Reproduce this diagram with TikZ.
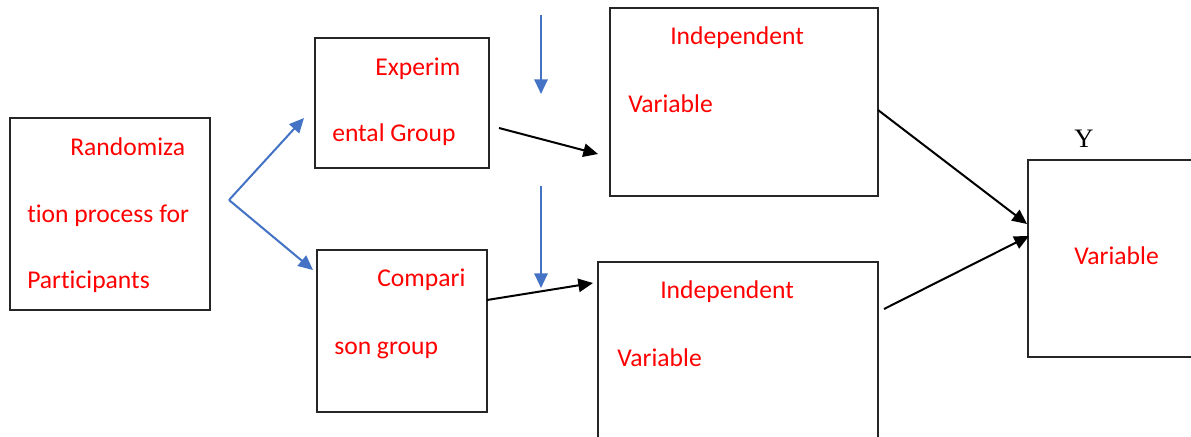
\documentclass[tikz,border=0pt]{standalone}
\usepackage{fontspec}
\setmainfont{Carlito}[Ligatures=NoCommon]
\newfontfamily\serifY{Liberation Serif}
\usepackage{xcolor}
\usetikzlibrary{arrows.meta}
\definecolor{linkblue}{RGB}{68,114,196}
\definecolor{labelred}{RGB}{255,0,0}

\begin{document}
\begin{tikzpicture}[x=0.75pt, y=-0.75pt,
    box/.style={draw=black!85, line width=0.9pt, fill=white, inner sep=0pt},
    lbl/.style={anchor=base west, inner sep=0pt, text=labelred, font=\fontsize{19.2}{23}\selectfont},
    bluearrow/.style={draw=linkblue, line width=1.5pt, -{Triangle[length=11pt, width=10pt]}},
    blackarrow/.style={draw=black, line width=1.5pt, -{Triangle[length=11pt, width=10pt]}}]
    % page frame
    \clip (0,0) rectangle (1191,436);
    \fill[white] (0,0) rectangle (1191,436);

    % boxes
    \node[box, minimum width=150pt, minimum height=144pt] (rand) at (110,214) {};
    \node[box, minimum width=130.5pt, minimum height=97.5pt] (expgrp) at (402,103) {};
    \node[box, minimum width=127.5pt, minimum height=121.5pt] (compgrp) at (402,331) {};
    \node[box, minimum width=201pt, minimum height=141pt] (ivtop) at (744,102) {};
    \node[box, minimum width=210pt, minimum height=156pt] (ivbot) at (738,366) {};
    \node[box, minimum width=144pt, minimum height=147.75pt] (dv) at (1124,258.5) {};

    % labels inside the boxes
    \node[lbl] (rand1) at (70,155) {Randomiza};
    \node[lbl] (rand2) at (27,222) {tion process for};
    \node[lbl] (rand3) at (27,288) {Participants};
    \node[lbl] (exp1) at (375,75) {Experim};
    \node[lbl] (exp2) at (332,141) {ental Group};
    \node[lbl] (comp1) at (377,286) {Compari};
    \node[lbl] (comp2) at (334,354) {son group};
    \node[lbl] (ivtop1) at (670,44) {Independent};
    \node[lbl] (ivtop2) at (628,112) {Variable};
    \node[lbl] (ivbot1) at (660,298) {Independent};
    \node[lbl] (ivbot2) at (617,366) {Variable};
    \node[lbl] (dv1) at (1074,264) {Variable};
    \node[anchor=base, inner sep=0pt, font=\serifY\fontsize{20}{24}\selectfont] (ylbl) at (1084,147) {Y};

    % connector end points
    \coordinate (fork) at (229,200);
    \coordinate (forkup) at (304,118);
    \coordinate (forkdown) at (313,270);
    \coordinate (topin1) at (541,15);
    \coordinate (topin2) at (541,94);
    \coordinate (midin1) at (541,186);
    \coordinate (midin2) at (541,288);
    \coordinate (expout) at (499,128);
    \coordinate (ivtopin) at (598,154);
    \coordinate (compout) at (487,300);
    \coordinate (ivbotin) at (593,283);
    \coordinate (ivtopout) at (878,110);
    \coordinate (dvin1) at (1027,224);
    \coordinate (ivbotout) at (884,309);
    \coordinate (dvin2) at (1029,236);

    % blue arrows
    \draw[bluearrow] (fork) -- (forkup);
    \draw[bluearrow] (fork) -- (forkdown);
    \draw[bluearrow] (topin1) -- (topin2);
    \draw[bluearrow] (midin1) -- (midin2);

    % black arrows
    \draw[blackarrow] (expout) -- (ivtopin);
    \draw[blackarrow] (compout) -- (ivbotin);
    \draw[blackarrow] (ivtopout) -- (dvin1);
    \draw[blackarrow] (ivbotout) -- (dvin2);
\end{tikzpicture}
\end{document}
